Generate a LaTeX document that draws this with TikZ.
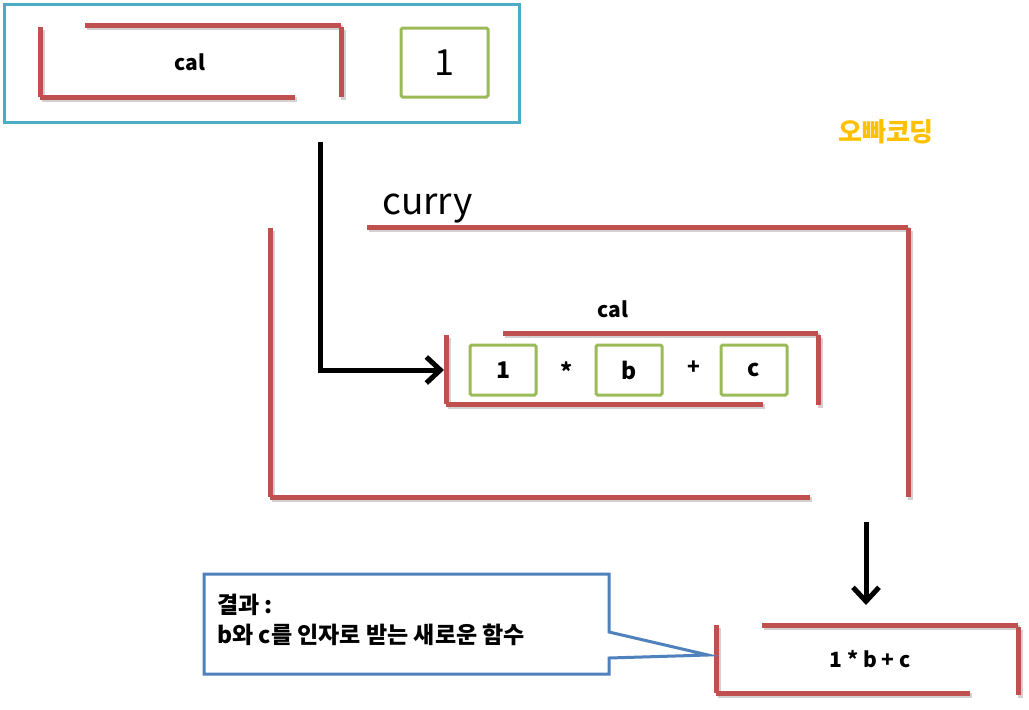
\documentclass[tikz,border=0pt]{standalone}
\usepackage{fontspec}
\setmainfont{Noto Sans CJK KR}
\usetikzlibrary{arrows.meta}
\definecolor{redl}{HTML}{C0504D}
\definecolor{cyanl}{HTML}{4BACC6}
\definecolor{greenl}{HTML}{9BBB59}
\definecolor{bluel}{HTML}{4F81BD}
\definecolor{orangel}{HTML}{FFC000}
\tikzset{
  redline/.style={draw=redl,line width=5pt,
    preaction={draw=black,opacity=0.18,line width=5pt,transform canvas={shift={(2pt,-2.5pt)}}}},
  greenbox/.style={draw=greenl,line width=3pt,rounded corners=1.5pt,minimum width=66pt,minimum height=50pt,inner sep=0pt,font=\bfseries\fontsize{23}{27}\selectfont},
  lbl/.style={inner sep=0pt,font=\bfseries\fontsize{21}{25}\selectfont},
  bigarrow/.style={line width=5pt,-{Straight Barb[length=14pt,width=26pt,line width=5pt]}}
}
\begin{document}
\begin{tikzpicture}[x=1pt,y=-1pt]
\useasboundingbox (0,0) rectangle (1029,710);
\fill[white] (0,0) rectangle (1029,710);
% top box
\node[draw=cyanl,line width=3pt,minimum width=515pt,minimum height=118pt,anchor=north west,inner sep=0pt] (topbox) at (2.5,3) {};
\draw[redline] (40,27) -- (40,97);
\draw[redline] (40,97) -- (295,97);
\draw[redline] (85,25) -- (341,25);
\draw[redline] (341,27) -- (341,97);
\node[lbl] (cal1) at (190,62) {cal};
\node[greenbox,minimum width=87pt,minimum height=69pt,font=\fontsize{36}{40}\selectfont] (one) at (444.5,62.5) {1};
% watermark
\node[inner sep=0pt,text=orangel,font=\bfseries\fontsize{26}{30}\selectfont] (wm) at (886,132) {오빠코딩};
% curry
\node[inner sep=0pt,anchor=base west,font=\fontsize{37}{40}\selectfont] (curry) at (382,214) {curry};
\draw[redline] (270,228) -- (270,497);
\draw[redline] (270,497) -- (810,497);
\draw[redline] (367,227) -- (908,227);
\draw[redline] (908,228) -- (908,497);
% inner cal
\node[lbl] (cal2) at (613,309) {cal};
\draw[redline] (503,333) -- (818,333);
\draw[redline] (818,335) -- (818,405);
\draw[redline] (446,335) -- (446,404);
\draw[redline] (446,404) -- (763,404);
\node[greenbox] (g1) at (503,370) {1};
\node[greenbox] (gb) at (629,370) {b};
\node[greenbox] (gc) at (754,370) {c};
\node[lbl,font=\bfseries\fontsize{23}{27}\selectfont] (star) at (567,371) {*};
\node[lbl] (plus) at (694,368) {+};
% arrows
\coordinate (a1) at (320,142);
\coordinate (a2) at (444,370);
\draw[bigarrow] (a1) |- (a2);
\coordinate (b1) at (866,522);
\coordinate (b2) at (866,605);
\draw[bigarrow] (b1) -- (b2);
% result bracket
\draw[redline] (762,625) -- (1018,625);
\draw[redline] (1018,627) -- (1018,695);
\draw[redline] (716,625) -- (716,693);
\draw[redline] (716,693) -- (970,693);
\node[lbl,font=\bfseries\fontsize{21}{24}\selectfont] (res) at (870,659) {1 * b + c};
% callout
\coordinate (tip) at (708,655);
\draw[bluel,line width=3pt,line join=miter] (609,632) -- (609,574) -- (204,574) -- (204,674) -- (609,674) -- (609,658) -- (tip) -- cycle;
\node[anchor=north west,align=left,inner sep=0pt,font=\bfseries\fontsize{23}{30}\selectfont] (note) at (217,594) {결과 :\\b와 c를 인자로 받는 새로운 함수};
\end{tikzpicture}
\end{document}
